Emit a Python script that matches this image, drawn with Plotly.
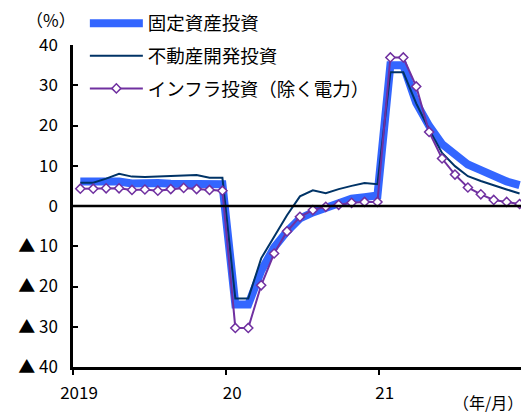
import plotly.graph_objects as go

# Months: Jan 2019 .. Nov 2021 (Jan & Feb share the Jan-Feb cumulative value)
months = [f"{y}/{m}" for y in (2019, 2020, 2021) for m in range(1, 13)][:35]

fai = [6.1, 6.1, 6.3, 6.1, 5.6, 5.8, 5.7, 5.5, 5.4, 5.2, 5.2, 5.4,
       -24.5, -24.5, -16.1, -10.3, -6.3, -3.1, -1.6, -0.3, 0.8, 1.8, 2.2, 2.6,
       35.0, 35.0, 25.6, 19.9, 15.4, 12.6, 10.3, 8.9, 7.3, 6.1, 5.2]

real_estate = [5.8, 5.8, 6.8, 8.0, 7.3, 7.2, 7.3, 7.4, 7.5, 7.7, 7.0, 7.0,
               -23.0, -23.0, -13.0, -7.5, -2.3, 2.4, 3.9, 3.2, 4.2, 5.0, 5.7, 5.4,
               33.2, 33.2, 25.5, 19.0, 13.2, 9.9, 7.4, 6.2, 5.1, 4.1, 3.1]

infra = [4.3, 4.3, 4.4, 4.4, 4.0, 4.1, 3.8, 4.2, 4.5, 4.2, 4.0, 3.8,
         -30.3, -30.3, -19.7, -11.8, -6.3, -2.7, -1.0, -0.2, 0.3, 0.8, 1.0, 1.0,
         36.9, 36.9, 29.7, 18.4, 11.8, 7.8, 4.6, 2.9, 1.5, 1.0, 0.5]

x_tick_pos = [-0.565, 11.3, 23.1]
x_tick_text = ["2019", "20", "21"]
y_tick_vals = [40, 30, 20, 10, 0, -10, -20, -30, -40]
y_tick_text = ["40", "30", "20", "10", "0", "▲ 10", "▲ 20", "▲ 30", "▲ 40"]

FONT = "Noto Sans CJK JP"
x = list(range(len(months)))

fig = go.Figure()
fig.add_trace(go.Scatter(x=x, y=fai, name="固定資産投資", mode="lines",
                         line=dict(color="#3366FF", width=8),
                         legendgroup="a", customdata=months))
fig.add_trace(go.Scatter(x=x, y=real_estate, name="不動産開発投資", mode="lines",
                         line=dict(color="#003366", width=2),
                         legendgroup="b", customdata=months))
fig.add_trace(go.Scatter(x=x, y=infra, name="インフラ投資（除く電力）", mode="lines+markers",
                         line=dict(color="#7030A0", width=2),
                         marker=dict(symbol="diamond", size=7, color="white",
                                     line=dict(color="#7030A0", width=1.5)),
                         legendgroup="c", customdata=months))

fig.add_shape(type="line", xref="paper", x0=0, x1=1, yref="y", y0=0, y1=0,
              line=dict(color="black", width=2.5), layer="above")

fig.add_annotation(text="（%）", xref="paper", yref="paper", x=-0.048, y=1.078,
                   xanchor="center", yanchor="middle", showarrow=False,
                   font=dict(family=FONT, size=17, color="black"))
fig.add_annotation(text="（年/月）", xref="paper", yref="paper", x=0.992, y=-0.11,
                   xanchor="right", yanchor="middle", showarrow=False,
                   font=dict(family=FONT, size=16, color="black"))

fig.update_layout(
    width=521, height=406,
    margin=dict(l=65, r=0, t=37, b=47, autoexpand=False),
    paper_bgcolor="white", plot_bgcolor="white",
    font=dict(family=FONT, size=17, color="black"),
    showlegend=True,
    legend=dict(x=0.026, y=1.125, xanchor="left", yanchor="top",
                bgcolor="rgba(0,0,0,0)", borderwidth=0,
                font=dict(family=FONT, size=18.5, color="black"),
                tracegroupgap=5.5, traceorder="grouped", itemwidth=53),
    xaxis=dict(range=[-0.565, 34.73], showgrid=False, zeroline=False,
               showline=True, linecolor="black", linewidth=2.5,
               ticks="outside", ticklen=5, tickwidth=2, tickcolor="black",
               tickmode="array", tickvals=x_tick_pos, ticktext=x_tick_text,
               ticklabelshift=6, ticklabelstandoff=4,
               tickfont=dict(family=FONT, size=17, color="black")),
    yaxis=dict(range=[-40, 40], showgrid=False, zeroline=False,
               showline=True, linecolor="black", linewidth=2.5,
               ticks="inside", ticklen=5, tickwidth=2, tickcolor="black",
               tickmode="array", tickvals=y_tick_vals, ticktext=y_tick_text,
               ticklabelstandoff=9,
               tickfont=dict(family=FONT, size=17, color="black")),
)

fig.write_html("out.html")
